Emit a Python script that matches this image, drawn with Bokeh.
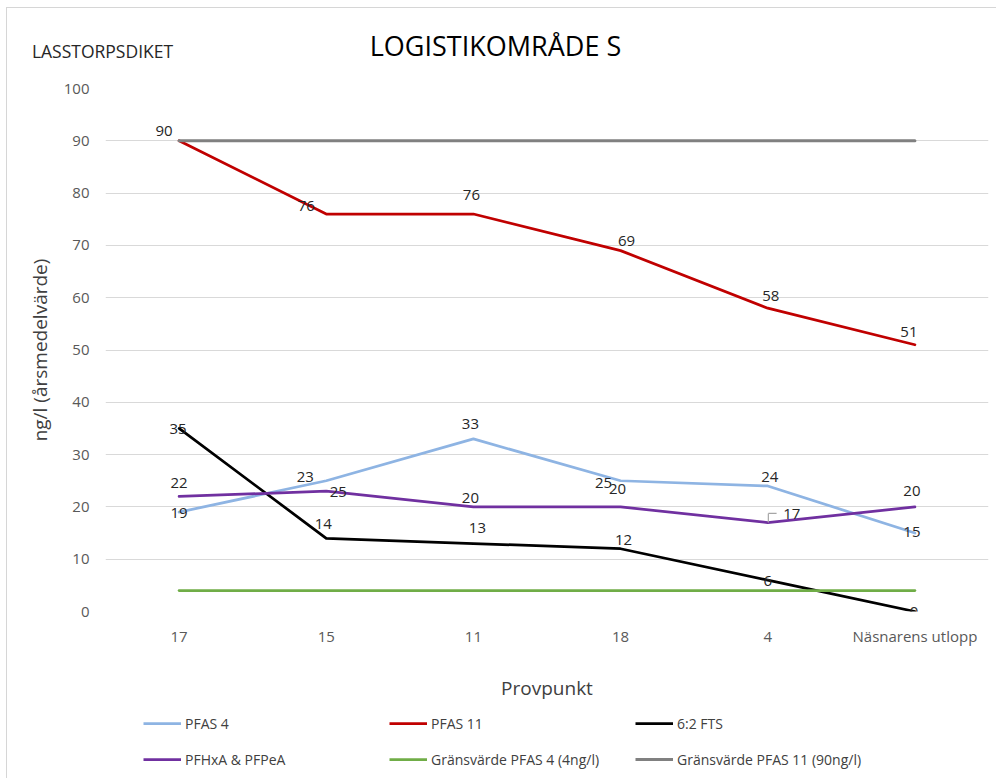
from bokeh.plotting import figure
from bokeh.layouts import column, row
from bokeh.models import (ColumnDataSource, FactorRange, Range1d, FixedTicker,
                          Legend, LegendItem, Label)
from bokeh.transform import dodge
from bokeh.core.properties import value
from bokeh.embed import file_html
from bokeh.resources import INLINE

# --- data -------------------------------------------------------------
provpunkt = ["17", "15", "11", "18", "4", "Näsnarens utlopp"]
pfas4 = [19, 25, 33, 25, 24, 15]
pfas11 = [90, 76, 76, 69, 58, 51]
fts62 = [35, 14, 13, 12, 6, 0]
pfhxa_pfpea = [22, 23, 20, 20, 17, 20]
grans_pfas4 = [4, 4, 4, 4, 4, 4]
grans_pfas11 = [90, 90, 90, 90, 90, 90]
y_ticks = [0, 10, 20, 30, 40, 50, 60, 70, 80, 90, 100]

FONT = "Open Sans"
W = 989

# data label placement (pixel offsets from each point)
label_offsets = {
    "pfas4": ([0, 12, -3, -17, 2, -3], [1, 11, -15, 2, -9, -1]),
    "pfas11": ([-15, -20, -2, 6, 3, -6], [-10, -8, -19, -10, -12, -13]),
    "fts62": ([-1, -3, 4, 3, 0, -1], [1, -14, -16, -9, 1, 0]),
    "pfhxa": ([0, -21, -3, -3, 24, -3], [-13, -14, -9, -18, -9, -16]),
}

series = [
    ("PFAS 4", pfas4, "#8eb4e3", 2.75),
    ("PFAS 11", pfas11, "#c00000", 2.75),
    ("6:2 FTS", fts62, "#000000", 2.75),
    ("PFHxA & PFPeA", pfhxa_pfpea, "#7030a0", 2.75),
    ("Gränsvärde PFAS 4 (4ng/l)", grans_pfas4, "#70ad47", 2.75),
    ("Gränsvärde PFAS 11 (90ng/l)", grans_pfas11, "#808080", 3.0),
]


def blank_panel(height):
    f = figure(width=W, height=height, x_range=Range1d(0, 1), y_range=Range1d(0, 1),
               x_axis_type=None, y_axis_type=None, min_border=0,
               output_backend="svg", toolbar_location=None)
    f.grid.visible = False
    f.outline_line_color = None
    f.border_fill_color = "white"
    return f


# --- heading strip ------------------------------------------------------
head = blank_panel(60)
head.add_layout(Label(x=488, y=23, x_units="screen", y_units="screen",
                      text="LOGISTIKOMRÅDE S", text_font=FONT,
                      text_font_size="27px", text_color="#000000",
                      text_align="center", text_baseline="middle"))
head.add_layout(Label(x=95, y=18, x_units="screen", y_units="screen",
                      text="LASSTORPSDIKET", text_font=FONT,
                      text_font_size="17.5px", text_color="#262626",
                      text_align="center", text_baseline="middle"))

# --- main chart ---------------------------------------------------------
p = figure(width=W, height=638,
           x_range=FactorRange(factors=provpunkt),
           y_range=Range1d(0, 100),
           output_backend="svg", toolbar_location=None,
           min_border_left=98, min_border_right=8,
           min_border_top=20, min_border_bottom=95)
p.outline_line_color = None
p.border_fill_color = "white"

p.xgrid.grid_line_color = None
p.ygrid.grid_line_color = "#d9d9d9"
p.ygrid.grid_line_width = 1
p.yaxis.ticker = FixedTicker(ticks=y_ticks)
for ax in (p.xaxis[0], p.yaxis[0]):
    ax.axis_line_color = None
    ax.major_tick_line_color = None
    ax.minor_tick_line_color = None
    ax.major_label_text_font = FONT
    ax.major_label_text_font_size = "15px"
    ax.major_label_text_color = "#595959"
    ax.axis_label_text_font = FONT
    ax.axis_label_text_font_style = "normal"
    ax.axis_label_text_font_size = "19px"
    ax.axis_label_text_color = "#404040"
p.yaxis.major_label_standoff = 10
p.yaxis.axis_label = "ng/l (årsmedelvärde)"
p.yaxis.axis_label_standoff = 8
p.xaxis.major_label_standoff = 8
p.xaxis.axis_label = "Provpunkt"
p.xaxis.axis_label_standoff = 26

for name, vals, color, w in series:
    p.line(x=provpunkt, y=vals, line_color=color, line_width=w,
           line_join="round", line_cap="round")

# leader line for the PFHxA & PFPeA label at point 4
p.segment(x0=dodge("x", 0.004, range=p.x_range), y0="y0",
          x1=dodge("x", 0.004, range=p.x_range), y1="y1",
          source=ColumnDataSource(dict(x=["4"], y0=[17], y1=[18.75])),
          line_color="#a6a6a6", line_width=1.2)
p.segment(x0=dodge("x", 0.004, range=p.x_range), y0="y",
          x1=dodge("x", 0.06, range=p.x_range), y1="y",
          source=ColumnDataSource(dict(x=["4"], y=[18.75])),
          line_color="#a6a6a6", line_width=1.2)

# data labels
for key, vals in (("pfas4", pfas4), ("pfas11", pfas11),
                  ("fts62", fts62), ("pfhxa", pfhxa_pfpea)):
    dx, dy = label_offsets[key]
    src = ColumnDataSource(dict(x=provpunkt, y=vals,
                                t=[str(v) for v in vals], dx=dx, dy=dy))
    p.text(x="x", y="y", text="t", x_offset="dx", y_offset="dy", source=src,
           text_font=value(FONT), text_font_size="15px", text_color="#262626",
           text_align="center", text_baseline="middle")

# --- legend strip -------------------------------------------------------
# swatch renderers sit outside the strip's visible range; only the legend shows
leg = blank_panel(72)
items = []
for name, vals, color, w in series:
    r = leg.line(x=[10, 11], y=[10, 10], line_color=color, line_width=w)
    items.append(LegendItem(label=name, renderers=[r]))
legend = Legend(items=items, orientation="horizontal", nrows=2,
                location=(38, 2),
                glyph_width=38, glyph_height=34, label_standoff=4,
                label_width=202, spacing=2, padding=0, margin=0,
                border_line_color=None, background_fill_alpha=0,
                label_text_font=FONT, label_text_font_size="14px",
                label_text_color="#404040")
leg.add_layout(legend, "center")

page = column(row(head), p, leg, spacing=0)
page.styles = {"margin-left": "6px", "margin-top": "7px",
               "border-left": "1px solid #d6d6d6", "border-top": "1px solid #d6d6d6"}

open("out.html", "w").write(file_html(page, INLINE))
